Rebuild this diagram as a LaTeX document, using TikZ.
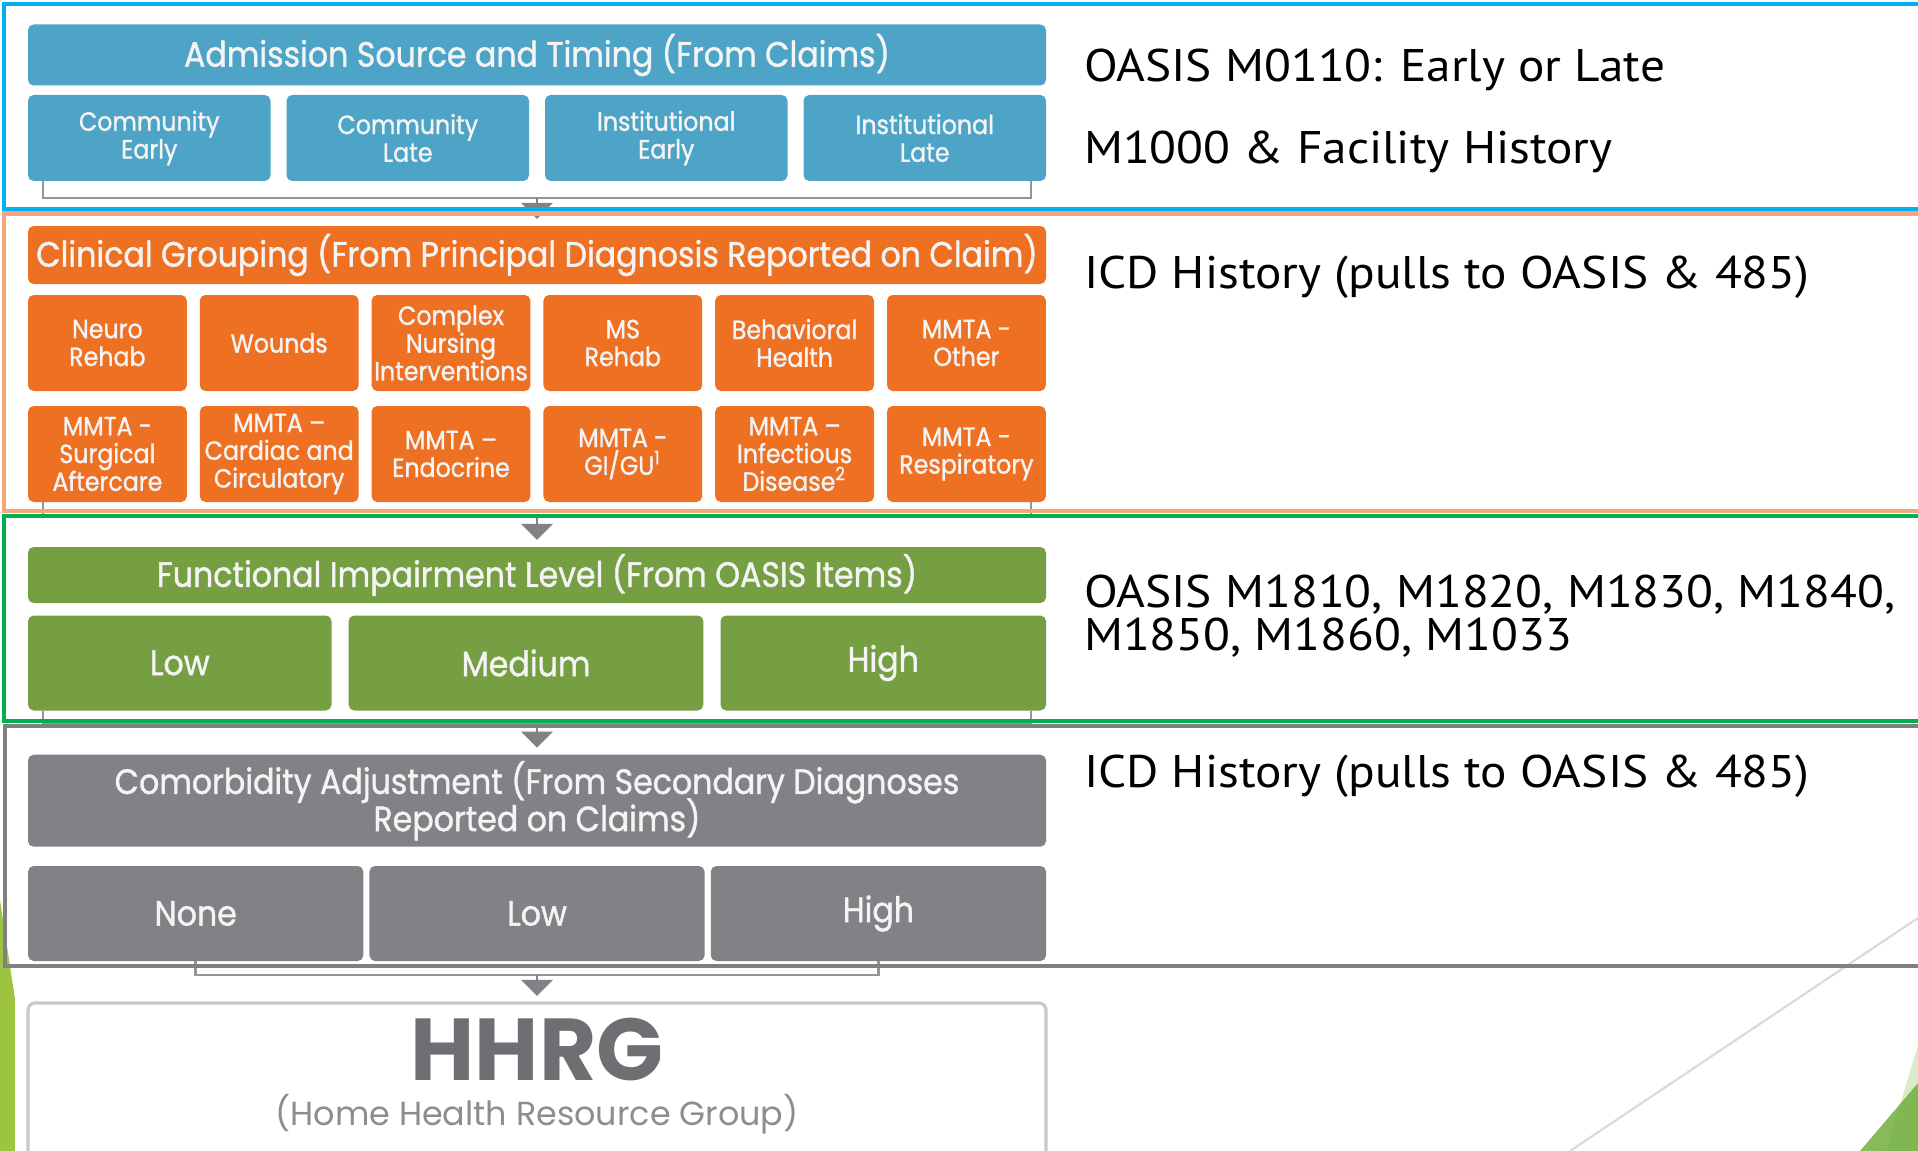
\documentclass[tikz,border=0pt]{standalone}
\usepackage{fontspec}
\setmainfont{PT Sans}[FakeStretch=1.08]
\newfontfamily\boxfont{Poppins}[FakeStretch=0.9,FakeBold=1.1]
\newfontfamily\hhrgfont{Poppins}
\usetikzlibrary{arrows.meta}

% let stacked lines sit closer than the glyph extents allow
\newcommand{\tightskip}{\lineskiplimit=-10pt\relax}

\definecolor{admblue}{RGB}{77,164,198}
\definecolor{clinorange}{RGB}{238,112,35}
\definecolor{funcgreen}{RGB}{118,158,66}
\definecolor{comgray}{RGB}{128,130,133}
\definecolor{boxtext}{RGB}{244,244,244}
\definecolor{linkgray}{RGB}{128,130,133}
\definecolor{framecyan}{RGB}{0,176,240}
\definecolor{framesalmon}{RGB}{244,166,122}
\definecolor{framegreen}{RGB}{0,176,80}
\definecolor{framegray}{RGB}{128,128,128}
\definecolor{hhrgborder}{RGB}{200,200,200}
\definecolor{hhrgtext}{RGB}{110,111,114}
\definecolor{hhrgsub}{RGB}{140,141,144}
\definecolor{limegreen}{RGB}{156,196,62}
\definecolor{leafgreen}{RGB}{117,176,67}
\definecolor{paleleaf}{RGB}{220,235,198}
\definecolor{slideline}{RGB}{217,217,217}

\begin{document}
\begin{tikzpicture}[
        x=0.1mm, y=-0.1mm,
        every node/.style={inner sep=0pt, outer sep=0pt},
        header/.style={
            rounded corners=1.6pt,
            minimum width=101.8mm,
            text=boxtext,
            align=center,
            font=\boxfont\fontsize{10}{10.6}\selectfont\tightskip
        },
        cell/.style={
            rounded corners=1.6pt,
            text=boxtext,
            align=center,
            font=\boxfont\fontsize{7.5}{7.9}\selectfont\tightskip
        },
        admcell/.style={cell, fill=admblue, minimum width=24.25mm, minimum height=8.6mm},
        clincell/.style={cell, fill=clinorange, minimum width=15.88mm, minimum height=9.6mm},
        level/.style={cell, minimum height=9.5mm, font=\boxfont\fontsize{10}{11}\selectfont},
        bracket/.style={draw=linkgray!85, line width=0.7pt},
        flow/.style={draw=linkgray, line width=0.7pt, shorten >=0.7mm,
            -{Triangle[width=9pt, length=4.6pt]}},
        frame/.style={line width=1.2pt},
        note/.style={anchor=west, align=left, font=\fontsize{13}{12.4}\selectfont\tightskip}
    ]
    \useasboundingbox (0,0) rectangle (1918,1151);
    \clip (0,0) rectangle (1918,1151);

    % Slide decoration behind the chart
    \fill[limegreen] (0,900) -- (38,1151) -- (0,1151) -- cycle;
    \fill[white] (15,0) rectangle (1058,1151);
    \draw[slideline, line width=0.6pt] (1918,918) -- (1570,1151);
    \fill[paleleaf] (1918,1045) -- (1886,1151) -- (1918,1151) -- cycle;
    \fill[leafgreen, opacity=0.88] (1918,1083) -- (1860,1151) -- (1918,1151) -- cycle;

    % Admission source and timing
    \node[header, fill=admblue, minimum height=6.1mm] (ah) at (537,55) {Admission Source and Timing (From Claims)};
    \node[admcell] (ce) at (149.25,138) {Community\\Early};
    \node[admcell] (cl) at (407.75,138) {Community\\Late};
    \node[admcell] (ie) at (666.25,138) {Institutional\\Early};
    \node[admcell] (il) at (924.75,138) {Institutional\\Late};

    % Clinical grouping - header and first row
    \node[header, fill=clinorange, minimum height=5.8mm] (cg) at (537,255) {Clinical Grouping (From Principal Diagnosis Reported on Claim)};
    \node[clincell] (neuro) at (107.4,343) {Neuro\\Rehab};
    \node[clincell] (wounds) at (279.2,343) {Wounds};
    \node[clincell] (cni) at (451,343) {Complex\\Nursing\\Interventions};
    \node[clincell] (msr) at (622.8,343) {MS\\Rehab};
    \node[clincell] (behav) at (794.6,343) {Behavioral\\Health};
    \node[clincell] (mother) at (966.4,343) {MMTA -\\Other};

    % Clinical grouping - second row
    \node[clincell] (surg) at (107.4,454) {MMTA -\\Surgical\\Aftercare};
    \node[clincell] (cardio) at (279.2,454) {MMTA –\\Cardiac and\\Circulatory};
    \node[clincell] (endo) at (451,454) {MMTA –\\Endocrine};
    \node[clincell] (gigu) at (622.8,454) {MMTA -\\GI/GU\textsuperscript{1}};
    \node[clincell] (infect) at (794.6,454) {MMTA –\\Infectious\\Disease\textsuperscript{2}};
    \node[clincell] (resp) at (966.4,454) {MMTA -\\Respiratory};

    % Functional impairment
    \node[header, fill=funcgreen, minimum height=5.6mm] (fh) at (537,575) {Functional Impairment Level (From OASIS Items)};
    \node[level, fill=funcgreen, minimum width=30.35mm] (flow) at (179.75,663) {Low};
    \node[level, fill=funcgreen, minimum width=35.47mm] (fmed) at (526,663) {Medium};
    \node[level, fill=funcgreen, minimum width=32.55mm] (fhigh) at (883.25,663) {High};

    % Comorbidity adjustment
    \node[header, fill=comgray, minimum height=9.2mm] (cm) at (537,800.7) {Comorbidity Adjustment (From Secondary Diagnoses\\Reported on Claims)};
    \node[level, fill=comgray, minimum width=33.53mm] (cnone) at (195.7,913.5) {None};
    \node[level, fill=comgray, minimum width=33.52mm] (clow) at (537,913.5) {Low};
    \node[level, fill=comgray, minimum width=33.53mm] (chigh) at (878.4,913.5) {High};

    % Result box
    \node[draw=hhrgborder, line width=0.9pt, rounded corners=2pt, minimum width=101.8mm,
          minimum height=17.2mm, anchor=north] (hhrg) at (537,1003) {};
    \node[text=hhrgtext, font=\hhrgfont\bfseries\fontsize{25}{25}\selectfont] (hhrgname) at (537,1050) {HHRG};
    \node[text=hhrgsub, font=\hhrgfont\fontsize{9.5}{11}\selectfont] (hhrgfull) at (537,1114) {(Home Health Resource Group)};

    % Brackets and arrows between the levels
    \coordinate (admjoin) at (537,198);
    \coordinate (clinjoin) at (537,517);
    \coordinate (funcjoin) at (537,724);
    \coordinate (comjoin) at (537,975);
    \draw[bracket] ([xshift=1.5mm]ce.south west) |- (admjoin) -| ([xshift=-1.5mm]il.south east);
    \draw[bracket] ([xshift=1.5mm]surg.south west) |- (clinjoin) -| ([xshift=-1.5mm]resp.south east);
    \draw[bracket] ([xshift=1.5mm]flow.south west) |- (funcjoin) -| ([xshift=-1.5mm]fhigh.south east);
    \draw[bracket] (cnone.south) |- (comjoin) -| (chigh.south);
    \draw[flow] (admjoin) -- (cg.north);
    \draw[flow] (clinjoin) -- (fh.north);
    \draw[flow] (funcjoin) -- (cm.north);
    \draw[flow] (comjoin) -- (hhrg.north);

    % Data sources
    \node[note] (src1) at (1084,70) {OASIS M0110: Early or Late};
    \node[note] (src2) at (1084,152) {M1000 \& Facility History};
    \node[note] (src3) at (1084,277) {ICD History (pulls to OASIS \& 485)};
    \node[note] (src4) at (1084,616) {OASIS M1810, M1820, M1830, M1840,\\M1850, M1860, M1033};
    \node[note] (src5) at (1084,776) {ICD History (pulls to OASIS \& 485)};

    % Section frames
    \draw[frame, framecyan] (4,4) rectangle (1940,209);
    \draw[frame, framesalmon] (4,213.5) rectangle (1940,511);
    \draw[frame, framegreen] (4,516) rectangle (1940,721);
    \draw[frame, framegray, line width=1.4pt] (5,726) rectangle (1940,966);
\end{tikzpicture}
\end{document}
